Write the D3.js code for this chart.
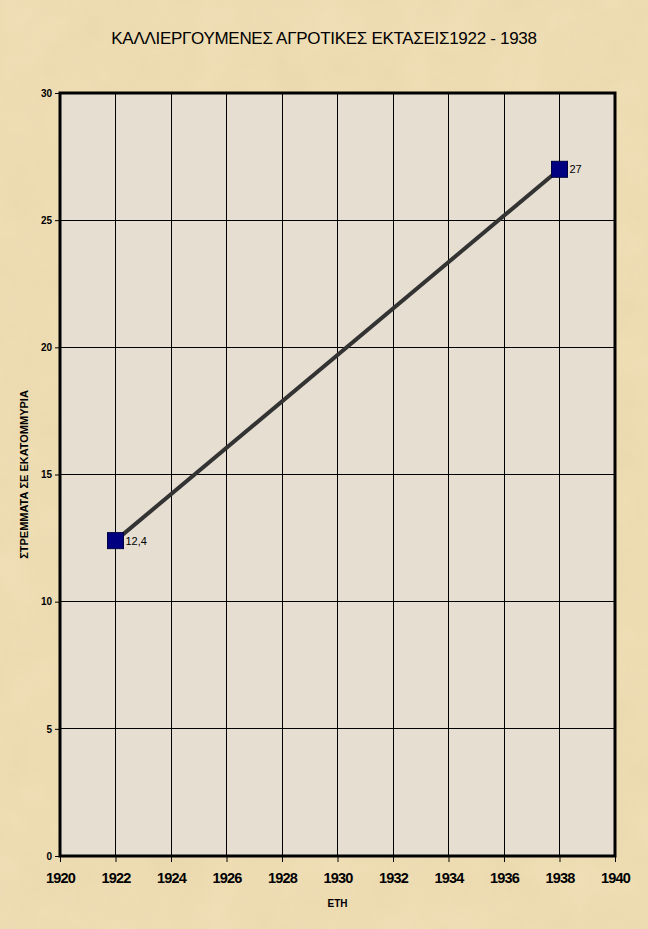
<!DOCTYPE html>
<html><head><meta charset="utf-8">
<script src="https://cdn.jsdelivr.net/npm/d3@7"></script>
<style>body{margin:0;background:#f0dfb6;} svg{display:block;}</style>
</head><body>
<script>
const years = [1922, 1938];
const values = [12.4, 27];
const valueLabels = ["12,4", "27"];
const xTicks = [1920,1922,1924,1926,1928,1930,1932,1934,1936,1938,1940];
const yTicks = [0,5,10,15,20,25,30];
const title = "ΚΑΛΛΙΕΡΓΟΥΜΕΝΕΣ ΑΓΡΟΤΙΚΕΣ ΕΚΤΑΣΕΙΣ1922 - 1938";
const xTitle = "ΕΤΗ";
const yTitle = "ΣΤΡΕΜΜΑΤΑ ΣΕ ΕΚΑΤΟΜΜΥΡΙΑ";

const W = 648, H = 929;
const L = 60, R = 615, T = 93, B = 856;
const svg = d3.select("body").append("svg").attr("width", W).attr("height", H);
const defs = svg.append("defs");
const f = defs.append("filter").attr("id","paper").attr("x",0).attr("y",0).attr("width","100%").attr("height","100%");
f.append("feTurbulence").attr("type","fractalNoise").attr("baseFrequency","0.02").attr("numOctaves",3).attr("seed",4).attr("result","n");
f.append("feColorMatrix").attr("type","matrix").attr("values","0 0 0 0 0.55  0 0 0 0 0.42  0 0 0 0 0.2  0 0 0 0.35 -0.05");
svg.append("rect").attr("width",W).attr("height",H).attr("fill","#f0dfb6");
svg.append("rect").attr("width",W).attr("height",H).attr("filter","url(#paper)").attr("opacity",0.5);

const x = d3.scaleLinear().domain([1920,1940]).range([L,R]);
const y = d3.scaleLinear().domain([0,30]).range([B,T]);

svg.append("rect").attr("x",L).attr("y",T).attr("width",R-L).attr("height",B-T).attr("fill","#e5ded1");

const g = svg.append("g");
g.selectAll(".vg").data(xTicks.slice(1,-1)).join("line")
  .attr("x1",d=>x(d)).attr("x2",d=>x(d)).attr("y1",T).attr("y2",B)
  .attr("stroke","#000").attr("stroke-width",1).attr("shape-rendering","crispEdges");
g.selectAll(".hg").data(yTicks.slice(1,-1)).join("line")
  .attr("x1",L).attr("x2",R).attr("y1",d=>y(d)).attr("y2",d=>y(d))
  .attr("stroke","#000").attr("stroke-width",1).attr("shape-rendering","crispEdges");

// axes
const xa = svg.append("g").attr("transform",`translate(0,${B})`)
  .call(d3.axisBottom(x).tickValues(xTicks).tickFormat(d3.format("d")).tickSize(6).tickPadding(11));
xa.select(".domain").remove();
xa.selectAll("text").attr("font-family","Liberation Sans, Arial").attr("font-weight","bold").attr("font-size","14.5px").attr("letter-spacing","-0.8px").attr("fill","#000");
const ya = svg.append("g").attr("transform",`translate(${L},0)`)
  .call(d3.axisLeft(y).tickValues(yTicks).tickSize(5).tickPadding(3));
ya.select(".domain").remove();
ya.selectAll("text").attr("font-family","Liberation Sans, Arial").attr("font-weight","bold").attr("font-size","10px").attr("fill","#000");

// border
svg.append("rect").attr("x",L).attr("y",T).attr("width",R-L).attr("height",B-T)
  .attr("fill","none").attr("stroke","#000").attr("stroke-width",3);

// line
svg.append("path").datum(years.map((d,i)=>[d,values[i]]))
  .attr("d", d3.line().x(d=>x(d[0])).y(d=>y(d[1])))
  .attr("stroke","#333333").attr("stroke-width",4).attr("fill","none");

svg.selectAll(".mk").data(years).join("rect")
  .attr("x",(d)=>x(d)-8).attr("y",(d,i)=>y(values[i])-8).attr("width",16).attr("height",16)
  .attr("fill","#000080").attr("stroke","#000040").attr("stroke-width",1);

svg.selectAll(".lb").data(years).join("text")
  .attr("x",d=>x(d)+10).attr("y",(d,i)=>y(values[i])+4)
  .attr("font-family","Liberation Sans, Arial").attr("font-size","11px").attr("fill","#000")
  .text((d,i)=>valueLabels[i]);

svg.append("text").attr("x",324).attr("y",44).attr("text-anchor","middle")
  .attr("font-family","Liberation Sans, Arial").attr("font-size","17px").attr("letter-spacing","-0.3px").attr("fill","#000")
  .text(title);
svg.append("text").attr("x",(L+R)/2).attr("y",907).attr("text-anchor","middle")
  .attr("font-family","Liberation Sans, Arial").attr("font-weight","bold").attr("font-size","10px").attr("fill","#000")
  .text(xTitle);
svg.append("text").attr("transform",`translate(28,${(T+B)/2 + 0}) rotate(-90)`).attr("text-anchor","middle")
  .attr("font-family","Liberation Sans, Arial").attr("font-weight","bold").attr("font-size","11px").attr("fill","#000")
  .text(yTitle);
</script>
</body></html>
